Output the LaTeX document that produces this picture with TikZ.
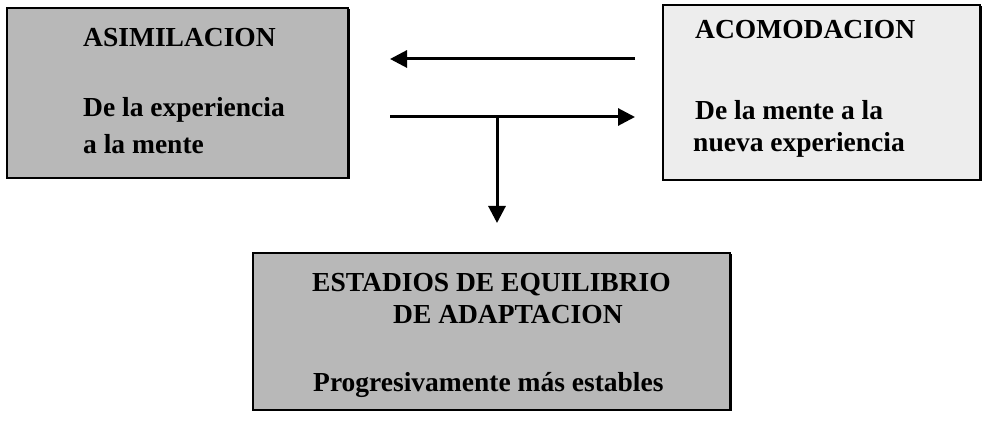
\documentclass[tikz,border=0pt]{standalone}
\usepackage{fontspec}
\setmainfont{Liberation Serif}
\usetikzlibrary{
    arrows.meta,
    shadows,
    positioning
}
\tikzset{caja/.style={draw=black, line width=2.5pt, inner sep=0pt, drop shadow={shadow xshift=1.5pt, shadow yshift=-1.5pt, fill=black, opacity=1}}}
\tikzset{cajaosc/.style={caja, fill=black!28}}
\tikzset{cajacla/.style={caja, fill=black!7}}
\tikzset{texto/.style={anchor=base west, inner sep=0pt, font=\fontsize{27.5}{30}\selectfont\bfseries}}
\tikzset{flecha/.style={line width=3pt, -{Triangle[length=17pt, width=17pt]}}}

\begin{document}
\begin{tikzpicture}[x=1pt, y=1pt]
                        \useasboundingbox (0, 0) rectangle (984, 425);

                        \node[cajaosc, minimum width=341pt, minimum height=170pt] (asim) at (177.5, 332) {};
                        \node[cajacla, minimum width=317pt, minimum height=175pt] (acom) at (821.5, 332.5) {};
                        \node[cajaosc, minimum width=477pt, minimum height=157pt] (estad) at (491.5, 93.5) {};

                        \node[texto] (asimt) at (83, 378) {ASIMILACION};
                        \node[texto] (asima) at (83, 308) {De la experiencia};
                        \node[texto] (asimb) at (83, 271) {a la mente};

                        \node[texto] (acomt) at (695, 386) {ACOMODACION};
                        \node[texto] (acoma) at (695, 305) {De la mente a la};
                        \node[texto] (acomb) at (693, 273) {nueva experiencia};

                        \node[texto] (estadt) at (312, 133) {ESTADIOS DE EQUILIBRIO};
                        \node[texto] (estadu) at (393, 101) {DE ADAPTACION};
                        \node[texto] (estada) at (313, 33) {Progresivamente más estables};

                        \coordinate (arrd) at (635, 366);
                        \coordinate (arri) at (390, 366);
                        \coordinate (abai) at (390, 308);
                        \coordinate (abad) at (635, 308);
                        \coordinate (union) at (497, 308);
                        \coordinate (punta) at (497, 202);

                        \draw
                        (arrd) edge[flecha] (arri)
                        (abai) edge[flecha] (abad)
                        (union) edge[flecha] (punta);
                    \end{tikzpicture}
\end{document}
